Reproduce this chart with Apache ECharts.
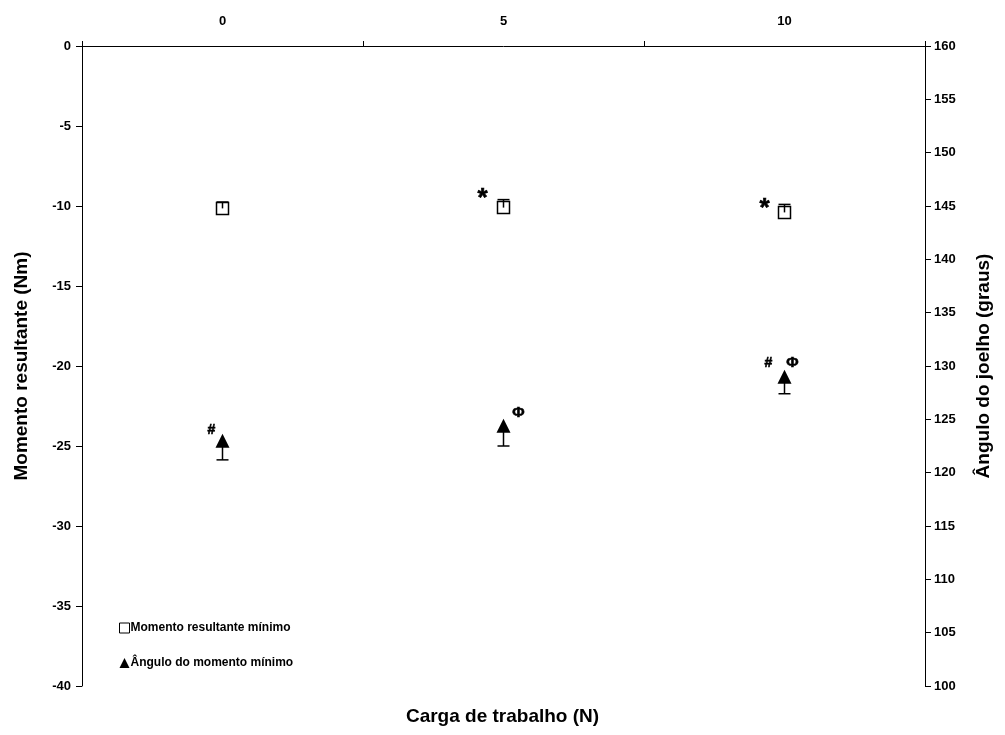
<!DOCTYPE html>
<html>
<head>
<meta charset="utf-8">
<script src="https://cdn.jsdelivr.net/npm/echarts@6/dist/echarts.min.js"></script>
<style>html,body{margin:0;padding:0;background:#fff;}#c{width:1005px;height:735px;}</style>
</head>
<body>
<div id="c"></div>
<script>
const categories = ['0', '5', '10'];
const momentMean = [-10.15, -10.1, -10.4];
const momentErr = [0.4, 0.5, 0.5];
const angleMean = [123.0, 124.4, 129.0];
const angleErr = [1.8, 1.9, 1.6];
const momentMarks = ['', '*', '*'];
const angleMarksLeft = ['#', '', '#'];
const angleMarksRight = ['', 'Φ', 'Φ'];
const leftTicks = [0, -5, -10, -15, -20, -25, -30, -35, -40];
const rightTicks = [160, 155, 150, 145, 140, 135, 130, 125, 120, 115, 110, 105, 100];

const FONT = 'Liberation Sans, Arial, sans-serif';
const chart = echarts.init(document.getElementById('c'));

function errBar(dir) {
  return function (params, api) {
    const c = api.value(0), m = api.value(1), e = api.value(2);
    const p0 = api.coord([c, m]);
    const p1 = api.coord([c, m + dir * e]);
    const w = 6;
    return {
      type: 'group',
      children: [
        { type: 'line', shape: { x1: p0[0], y1: p0[1], x2: p1[0], y2: p1[1] }, style: { stroke: '#000', lineWidth: 1.5 } },
        { type: 'line', shape: { x1: p1[0] - w, y1: p1[1], x2: p1[0] + w, y2: p1[1] }, style: { stroke: '#000', lineWidth: 1.5 } }
      ]
    };
  };
}

const momentOffsets = [[0, 0], [-21, -9], [-20, -4]];
const angleLeftOffsets = [[-11, -11], [0, 0], [-16, -14]];
const angleRightOffsets = [[0, 0], [15, -13], [8, -14]];

function annot(values, marks, offsets, yIdx, fontSize) {
  return {
    type: 'scatter', xAxisIndex: 0, yAxisIndex: yIdx, symbolSize: 1, silent: true, z: 5,
    itemStyle: { color: '#000', opacity: 0 },
    data: values.map((v, i) => ({
      value: [i, v],
      label: { show: marks[i] !== '', formatter: marks[i], position: 'inside', offset: offsets[i],
        color: '#000', opacity: 1, textBorderColor: '#000', textBorderWidth: 0.6,
        fontFamily: FONT, fontWeight: 'bold', fontSize: fontSize }
    }))
  };
}

const axisLabelStyle = { color: '#000', fontFamily: FONT, fontWeight: 'bold', fontSize: 13 };

chart.setOption({
  animation: false,
  backgroundColor: '#fff',
  grid: { left: 82, right: 80, top: 46, bottom: 49 },
  title: {
    text: 'Carga de trabalho (N)', left: 'center', bottom: 4,
    textStyle: { color: '#000', fontFamily: FONT, fontWeight: 'bold', fontSize: 19 }
  },
  legend: {
    orient: 'vertical', left: 114, top: 617, itemGap: 23, itemWidth: 10, itemHeight: 10,
    textStyle: { color: '#000', fontFamily: FONT, fontWeight: 'bold', fontSize: 12, padding: [0, 0, 0, -4] },
    data: [
      { name: 'Momento resultante mínimo', icon: 'rect', itemStyle: { color: '#fff', borderColor: '#000', borderWidth: 1 } },
      { name: 'Ângulo do momento mínimo', icon: 'triangle', itemStyle: { color: '#000' } }
    ]
  },
  xAxis: {
    type: 'category', position: 'top', data: categories, boundaryGap: true,
    axisLine: { lineStyle: { color: '#000', width: 1 } },
    axisTick: { show: true, length: 5, lineStyle: { color: '#000' } },
    axisLabel: Object.assign({ margin: 18 }, axisLabelStyle),
    splitLine: { show: false }
  },
  yAxis: [
    {
      type: 'value', min: -40, max: 0, interval: 5, position: 'left',
      name: 'Momento resultante (Nm)', nameLocation: 'middle', nameGap: 51, nameRotate: 90,
      nameTextStyle: { color: '#000', fontFamily: FONT, fontWeight: 'bold', fontSize: 19 },
      axisLine: { show: true, lineStyle: { color: '#000', width: 1 } },
      axisTick: { show: true, length: 6, lineStyle: { color: '#000' } },
      axisLabel: Object.assign({ margin: 11, formatter: v => leftTicks.includes(v) ? String(v) : '' }, axisLabelStyle),
      splitLine: { show: false }
    },
    {
      type: 'value', min: 100, max: 160, interval: 5, position: 'right',
      name: 'Ângulo do joelho (graus)', nameLocation: 'middle', nameGap: 49, nameRotate: 90,
      nameTextStyle: { color: '#000', fontFamily: FONT, fontWeight: 'bold', fontSize: 19 },
      axisLine: { show: true, lineStyle: { color: '#000', width: 1 } },
      axisTick: { show: true, length: 6, lineStyle: { color: '#000' } },
      axisLabel: Object.assign({ margin: 9, formatter: v => rightTicks.includes(v) ? String(v) : '' }, axisLabelStyle),
      splitLine: { show: false }
    }
  ],
  series: [
    {
      name: 'Momento resultante mínimo', type: 'scatter', yAxisIndex: 0, symbol: 'rect', symbolSize: 12, z: 3,
      itemStyle: { color: '#fff', borderColor: '#000', borderWidth: 1.5, opacity: 1 },
      data: momentMean.map((v, i) => [i, v])
    },
    {
      type: 'custom', yAxisIndex: 0, z: 4, silent: true,
      renderItem: errBar(1),
      data: momentMean.map((v, i) => [i, v, momentErr[i]])
    },
    {
      type: 'custom', yAxisIndex: 1, z: 2, silent: true,
      renderItem: errBar(-1),
      data: angleMean.map((v, i) => [i, v, angleErr[i]])
    },
    {
      name: 'Ângulo do momento mínimo', type: 'scatter', yAxisIndex: 1, symbol: 'triangle', symbolSize: [14, 14], z: 3,
      itemStyle: { color: '#000', opacity: 1 },
      data: angleMean.map((v, i) => [i, v])
    },
    annot(momentMean, momentMarks, momentOffsets, 0, 26),
    annot(angleMean, angleMarksLeft, angleLeftOffsets, 1, 14),
    annot(angleMean, angleMarksRight, angleRightOffsets, 1, 15)
  ]
});
</script>
</body>
</html>
